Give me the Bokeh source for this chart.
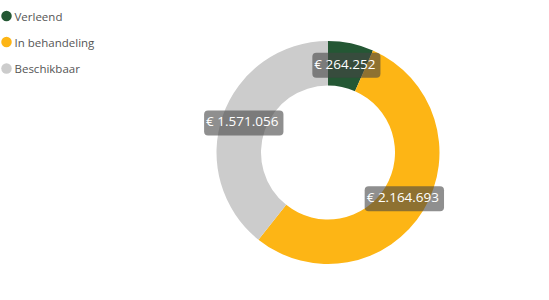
import numpy as np
from bokeh.plotting import figure
from bokeh.models import Range1d, ColumnDataSource
from bokeh.core.properties import value
from bokeh.embed import file_html
from bokeh.resources import INLINE

# Budget breakdown
categories = ["Verleend", "In behandeling", "Beschikbaar"]
amounts = [264252, 2164693, 1571056]
amount_labels = ["€ 264.252", "€ 2.164.693", "€ 1.571.056"]
colors = ["#245734", "#FDB515", "#CCCCCC"]

W, H = 549, 300
cx, cy = 327.5, H - 152
r_out, r_in = 111.5, 67

vals = np.array(amounts, dtype=float)
frac = vals / vals.sum()
cum = np.concatenate([[0], np.cumsum(frac)])
# clockwise from 12 o'clock
start = np.pi / 2 - cum[:-1] * 2 * np.pi
end = np.pi / 2 - cum[1:] * 2 * np.pi
mid = (start + end) / 2
r_mid = (r_out + r_in) / 2

src = ColumnDataSource(dict(
    cat=categories, start=start, end=end, color=colors,
    lx=cx + r_mid * np.cos(mid), ly=cy + r_mid * np.sin(mid),
    label=amount_labels,
))

p = figure(width=W, height=H, x_range=Range1d(0, W), y_range=Range1d(0, H),
           output_backend="svg", toolbar_location=None, min_border=0)
p.axis.visible = False
p.grid.visible = False
p.outline_line_color = None
p.background_fill_color = "white"

p.annular_wedge(x=cx, y=cy, inner_radius=r_in, outer_radius=r_out,
                start_angle="start", end_angle="end", direction="clock",
                fill_color="color", line_color=None, source=src)

p.text(x="lx", y="ly", text="label", source=src,
       text_align="center", text_baseline="middle",
       text_color="white", text_font=value("Open Sans"), text_font_size="13.5px",
       background_fill_color="#444444", background_fill_alpha=0.6,
       border_radius=4, padding=[2, 5, 2, 5])

# legend
leg_y = [H - 15.5, H - 41.5, H - 68]
p.scatter(x=[6] * 3, y=leg_y, size=10.5, marker="circle",
          fill_color=colors, line_color=None)
p.text(x=[14] * 3, y=leg_y, text=categories, text_baseline="middle",
       text_color="#555555", text_font=value("Open Sans"), text_font_size="11.5px")

open("out.html", "w").write(file_html(p, INLINE))
